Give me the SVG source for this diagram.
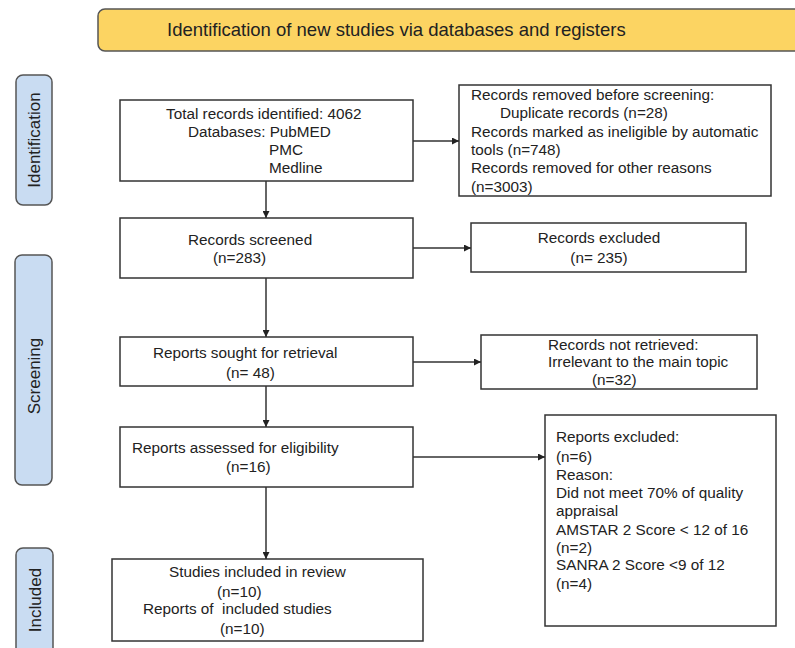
<svg xmlns="http://www.w3.org/2000/svg" width="795" height="648" viewBox="0 0 795 648">
<style>
text{font-family:"Liberation Sans",Arial,sans-serif;fill:#222}
.t{font-size:15.3px}
.box{fill:#fff;stroke:#333;stroke-width:1.5}
.side{fill:#c9dcf2;stroke:#555;stroke-width:1.5}
.side-t{font-size:17px;text-anchor:middle}
.c line{stroke:#333;stroke-width:1.5;marker-end:url(#ah)}
</style>
<defs>
<marker id="ah" markerUnits="userSpaceOnUse" markerWidth="7" markerHeight="7" refX="7" refY="3.5" orient="auto">
<path d="M0,0 L7,3.5 L0,7 z" fill="#222"/>
</marker>
</defs>
<rect width="795" height="648" fill="#fff"/>
<g id="banner">
<rect x="98" y="9" width="720" height="42" rx="7" fill="#fcd462" stroke="#555" stroke-width="1.5"/>
<text x="167" y="36" font-size="18.5">Identification of new studies via databases and registers</text>
</g>
<g id="side-identification">
<rect class="side" x="16" y="75" width="36" height="130" rx="7"/>
<text class="side-t" transform="translate(40,140) rotate(-90)">Identification</text>
</g>
<g id="side-screening">
<rect class="side" x="15" y="255" width="37" height="230" rx="7"/>
<text class="side-t" transform="translate(40,376) rotate(-90)">Screening</text>
</g>
<g id="side-included">
<rect class="side" x="16" y="548" width="37" height="110" rx="7"/>
<text class="side-t" transform="translate(41,600) rotate(-90)">Included</text>
</g>
<g id="total-records">
<rect class="box" x="120" y="100" width="293" height="81"/>
<text class="t" x="166" y="119">Total records identified: 4062</text>
<text class="t" x="188" y="137">Databases: PubMED</text>
<text class="t" x="269" y="155">PMC</text>
<text class="t" x="269" y="173">Medline</text>
</g>
<g id="removed-before">
<rect class="box" x="459" y="85" width="312" height="111"/>
<text class="t" x="471" y="100">Records removed before screening:</text>
<text class="t" x="500" y="118">Duplicate records (n=28)</text>
<text class="t" x="471" y="137">Records marked as ineligible by automatic</text>
<text class="t" x="471" y="155">tools (n=748)</text>
<text class="t" x="471" y="173">Records removed for other reasons</text>
<text class="t" x="471" y="192">(n=3003)</text>
</g>
<g id="records-screened">
<rect class="box" x="120" y="218" width="293" height="60"/>
<text class="t" x="188" y="245">Records screened</text>
<text class="t" x="213" y="263">(n=283)</text>
</g>
<g id="records-excluded">
<rect class="box" x="471" y="223" width="275" height="49"/>
<text class="t" x="599" y="243" text-anchor="middle">Records excluded</text>
<text class="t" x="599" y="263" text-anchor="middle">(n= 235)</text>
</g>
<g id="reports-sought">
<rect class="box" x="120" y="337" width="293" height="49"/>
<text class="t" x="153" y="358">Reports sought for retrieval</text>
<text class="t" x="226" y="378">(n= 48)</text>
</g>
<g id="not-retrieved">
<rect class="box" x="481" y="335" width="276" height="54"/>
<text class="t" x="548" y="350">Records not retrieved:</text>
<text class="t" x="548" y="367">Irrelevant to the main topic</text>
<text class="t" x="592" y="385">(n=32)</text>
</g>
<g id="reports-assessed">
<rect class="box" x="120" y="427" width="293" height="60"/>
<text class="t" x="132" y="453">Reports assessed for eligibility</text>
<text class="t" x="226" y="472">(n=16)</text>
</g>
<g id="reports-excluded">
<rect class="box" x="545" y="415" width="231" height="211"/>
<text class="t" x="556" y="442">Reports excluded:</text>
<text class="t" x="556" y="462">(n=6)</text>
<text class="t" x="556" y="480">Reason:</text>
<text class="t" x="556" y="498">Did not meet 70% of quality</text>
<text class="t" x="556" y="516">appraisal</text>
<text class="t" x="556" y="535">AMSTAR 2 Score &lt; 12 of 16</text>
<text class="t" x="556" y="553">(n=2)</text>
<text class="t" x="556" y="570">SANRA 2 Score &lt;9 of 12</text>
<text class="t" x="556" y="589">(n=4)</text>
</g>
<g id="studies-included">
<rect class="box" x="112" y="559" width="311" height="82"/>
<text class="t" x="169" y="577">Studies included in review</text>
<text class="t" x="217" y="597">(n=10)</text>
<text class="t" x="143" y="614" xml:space="preserve" style="white-space:pre">Reports of  included studies</text>
<text class="t" x="220" y="634">(n=10)</text>
</g>
<g id="connectors" class="c">
<line x1="266" y1="181" x2="266" y2="218"/>
<line x1="413" y1="141" x2="459" y2="141"/>
<line x1="413" y1="248" x2="471" y2="248"/>
<line x1="266" y1="278" x2="266" y2="337"/>
<line x1="413" y1="362" x2="481" y2="362"/>
<line x1="266" y1="386" x2="266" y2="427"/>
<line x1="413" y1="457" x2="545" y2="457"/>
<line x1="266" y1="487" x2="266" y2="559"/>
</g>
</svg>
